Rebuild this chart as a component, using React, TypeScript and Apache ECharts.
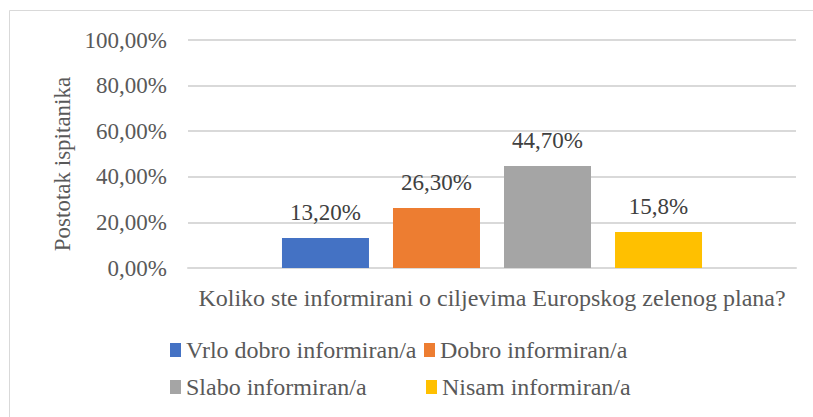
import React, { useEffect, useRef } from "react";
import * as echarts from "echarts";

const categories = ["Koliko ste informirani o ciljevima Europskog zelenog plana?"];
const seriesNames = ["Vrlo dobro informiran/a", "Dobro informiran/a", "Slabo informiran/a", "Nisam informiran/a"];
const seriesValues = [13.2, 26.3, 44.7, 15.8];
const seriesLabels = ["13,20%", "26,30%", "44,70%", "15,8%"];
const seriesColors = ["#4472C4", "#ED7D31", "#A5A5A5", "#FFC000"];
const yTicks = [0, 20, 40, 60, 80, 100];
const yTickLabels = ["0,00%", "20,00%", "40,00%", "60,00%", "80,00%", "100,00%"];

const FONT = "Liberation Serif";

export default function App() {
  const ref = useRef<HTMLDivElement>(null);
  useEffect(() => {
    if (!ref.current) return;
    const chart = echarts.init(ref.current, null, { renderer: "svg" });
    const legendPos = [
      { left: 170, top: 338 },
      { left: 424, top: 338 },
      { left: 170, top: 375 },
      { left: 426, top: 375 },
    ];
    chart.setOption({
      animation: false,
      backgroundColor: "#ffffff",
      textStyle: { fontFamily: FONT },
      graphic: [
        {
          type: "rect",
          shape: { x: 9.5, y: 10.5, width: 820, height: 420 },
          style: { fill: "none", stroke: "#d9d9d9", lineWidth: 1 },
          silent: true,
        },
      ],
      grid: { left: 188, right: 17, top: 40, bottom: 149 },
      legend: seriesNames.map((n, i) => ({
        data: [n],
        left: legendPos[i].left,
        top: legendPos[i].top,
        icon: "rect",
        itemWidth: 11,
        itemHeight: 14,
        padding: 0,
        selectedMode: false,
        textStyle: { fontFamily: FONT, fontSize: 24, color: "#595959" },
      })),
      xAxis: {
        type: "category",
        data: categories,
        axisLine: { show: true, lineStyle: { color: "#d9d9d9", width: 2 } },
        axisTick: { show: false },
        axisLabel: { fontFamily: FONT, fontSize: 24, color: "#595959", margin: 18 },
      },
      yAxis: {
        type: "value",
        min: 0,
        max: 100,
        interval: 20,
        name: "Postotak ispitanika",
        nameLocation: "middle",
        nameGap: 114,
        nameTextStyle: { fontFamily: FONT, fontSize: 23, color: "#595959", padding: [0, 20, 0, 0] },
        axisLine: { show: false },
        axisTick: { show: false },
        splitLine: { lineStyle: { color: "#d9d9d9", width: 2 } },
        axisLabel: {
          fontFamily: FONT,
          fontSize: 23,
          color: "#595959",
          margin: 21,
          formatter: (v: number) => yTickLabels[yTicks.indexOf(v)] ?? "",
        },
      },
      series: seriesNames.map((n, i) => ({
        type: "bar",
        name: n,
        data: [seriesValues[i]],
        itemStyle: { color: seriesColors[i] },
        barWidth: 87,
        barGap: "27.6%",
        label: {
          show: true,
          position: "top",
          distance: 14,
          fontFamily: FONT,
          fontSize: 23,
          color: "#404040",
          formatter: () => seriesLabels[i],
        },
      })),
    });
    return () => chart.dispose();
  }, []);
  return (
    <div
      ref={ref}
      style={{ position: "fixed", left: 0, top: 0, width: 813, height: 417 }}
    />
  );
}
